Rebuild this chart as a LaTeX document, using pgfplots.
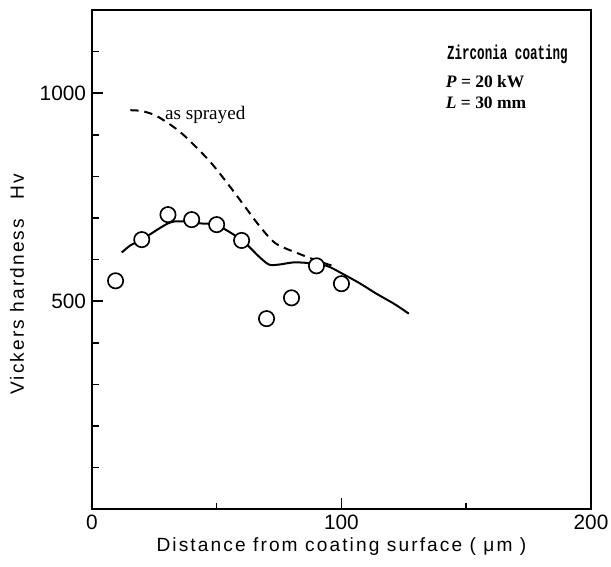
\documentclass[border=0pt]{standalone}
\usepackage{fontspec}
\setmainfont{Liberation Sans}
\newfontfamily\labelfont[LetterSpace=11]{Liberation Sans}
\newfontfamily\seriffont{Liberation Serif}
\newfontfamily\monofont{Liberation Mono}
\usepackage{graphicx}
\usepackage{pgfplots}
\pgfplotsset{compat=1.18}

\begin{document}
\begin{tikzpicture}
\begin{axis}[
    scale only axis,
    width=300pt, height=300pt,
    xmin=0, xmax=200, ymin=0, ymax=1200,
    xtick={0,100,200}, minor xtick={50,150},
    ytick={500,1000}, minor ytick={100,200,300,400,600,700,800,900,1100},
    tick align=inside,
    xtick pos=bottom, ytick pos=left,
    major tick length=7pt, minor tick length=4pt,
    tick style={line width=1pt, black},
    axis line style={line width=1.3pt},
    /pgf/number format/assume math mode=true,
    /pgf/number format/1000 sep={},
    tick label style={font=\fontsize{12.5}{14}\selectfont},
    xlabel={Distance from coating surface ( μm )},
    ylabel={Vickers hardness\quad Hv},
    label style={font=\labelfont\fontsize{11.5}{14}\selectfont},
    xlabel style={yshift=2pt},
    ylabel style={at={(axis description cs:-0.124,0.45)}, anchor=south},
    clip=false,
]
% fitted curve after treatment
\addplot[smooth, line width=1.2pt] coordinates {
    (12,617) (15.4,634) (20,648) (30.5,687) (35.8,692) (43,687) (50,683)
    (60,647) (67,607) (71,588) (75,588) (80.5,593) (86,592) (94,585)
    (100.4,566) (107.6,542) (114,518) (121,494) (127,470)
};
% as sprayed
\addplot[smooth, line width=1.2pt, dash pattern=on 5pt off 3.5pt] coordinates {
    (15.4,959) (20,957) (26,945) (34.5,911) (41,875) (48,831) (55,778)
    (61,730) (67,682) (73.6,639) (83,614) (90,598) (97.4,583)
};
% measured points
\addplot[only marks, mark=*, mark size=4.6pt,
    mark options={fill=white, draw=black, line width=1pt}] coordinates {
    (9.5,549) (20,648) (30.5,708) (40,696) (50,684) (60,646)
    (70,458) (80,508) (90,585) (100,542)
};
\node[anchor=west, font=\seriffont\fontsize{11.5}{13}\selectfont] at (axis cs:27,947) {as sprayed};
\node[font=\monofont\bfseries\fontsize{12}{14}\selectfont] at (axis cs:166.5,1094) {\scalebox{0.63}[1]{Zirconia coating}};
\node[anchor=west, font=\seriffont\bfseries\fontsize{10.5}{13}\selectfont] at (axis cs:139.5,1028) {\textit{P} = 20 kW};
\node[anchor=west, font=\seriffont\bfseries\fontsize{10.5}{13}\selectfont] at (axis cs:139.5,978) {\textit{L} = 30 mm};
\coordinate (sw) at (rel axis cs:0,0);
\coordinate (ne) at (rel axis cs:1,1);
\end{axis}
\pgfresetboundingbox
\path ([shift={(-55.2pt,-34.2pt)}]sw) rectangle ([shift={(12pt,6pt)}]ne);
\end{tikzpicture}
\end{document}
